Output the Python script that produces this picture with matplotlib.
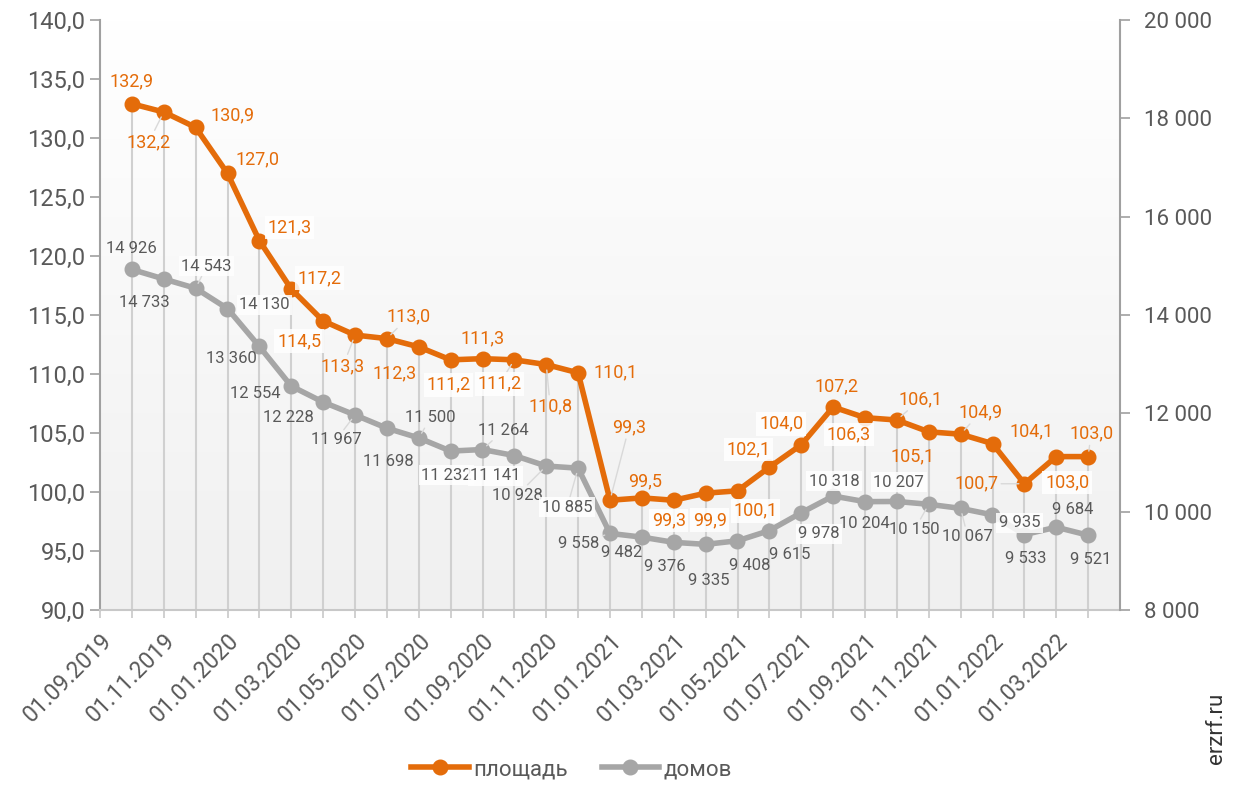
import matplotlib
matplotlib.use("Agg")
import matplotlib.pyplot as plt
from matplotlib.colors import LinearSegmentedColormap
import numpy as np

plt.rcParams['font.family'] = ['Roboto', 'DejaVu Sans']

# data: monthly, 01.10.2019 .. 01.04.2022
area = [132.9, 132.2, 130.9, 127.0, 121.3, 117.2, 114.5, 113.3, 113.0, 112.3, 111.2,
        111.3, 111.2, 110.8, 110.1, 99.3, 99.5, 99.3, 99.9, 100.1, 102.1, 104.0,
        107.2, 106.3, 106.1, 105.1, 104.9, 104.1, 100.7, 103.0, 103.0]
houses = [14926, 14733, 14543, 14130, 13360, 12554, 12228, 11967, 11698, 11500, 11232,
          11264, 11141, 10928, 10885, 9558, 9482, 9376, 9335, 9408, 9615, 9978,
          10318, 10204, 10207, 10150, 10067, 9935, 9533, 9684, 9521]
date_labels = ["01.09.2019", "01.11.2019", "01.01.2020", "01.03.2020", "01.05.2020",
               "01.07.2020", "01.09.2020", "01.11.2020", "01.01.2021", "01.03.2021",
               "01.05.2021", "01.07.2021", "01.09.2021", "01.11.2021", "01.01.2022",
               "01.03.2022"]
names = ["площадь", "домов"]

# label offsets in pixels (dx, dy up)
off_a = [(0, 22), (-15, -30), (37, 12), (30, 14), (30, 13), (28, 11), (-24, -20), (-12, -31),
         (22, 22), (-24, -26), (-2, -25), (0, 20), (-15, -24), (4, -42), (37, 0), (19, 73),
         (3, 17), (-5, -20), (4, -27), (18, -20), (-21, 18), (-20, 21), (3, 21), (-16, -17),
         (24, 21), (-16, -25), (20, 22), (39, 12), (-48, 0), (11, -26), (3, 23)]
off_h = [(0, 21), (-19, -24), (11, 22), (37, 4), (-28, -12), (-36, -7), (-35, -15), (-19, -25),
         (1, -33), (12, 20), (-4, -24), (21, 19), (-19, -20), (-29, -29), (-11, -39), (-31, -10),
         (-20, -15), (-9, -24), (3, -36), (12, -25), (20, -24), (18, -21), (1, 15), (-1, -22),
         (2, 19), (-14, -25), (7, -28), (27, -8), (1, -24), (16, 18), (3, -24)]
lead_a = {1, 7, 8, 12, 13, 15, 24, 26, 28, 30}
lead_h = {2, 7, 9, 11, 13, 14, 15, 25, 26}
box_a = {4, 5, 6, 10, 12, 17, 18, 19, 20, 21, 23, 29}
box_h = {2, 3, 10, 12, 14, 21, 22, 24, 27}

orange = '#E46C0A'
grey = '#A6A6A6'
txt = '#595959'

x = np.arange(1, len(area) + 1)

fig = plt.figure(figsize=(12.35, 7.87), dpi=100)
ax = fig.add_axes([100/1235, 1-610/787, 1020/1235, 590/787])
ax2 = ax.twinx()

ax.set_xlim(0, 32)
ax.set_ylim(90, 140)
ax2.set_ylim(8000, 20000)

# background gradient, white on top -> light grey at bottom
grad = np.linspace(0, 1, 256).reshape(-1, 1)
cm = LinearSegmentedColormap.from_list('g', ['#F0F0F0', '#FFFFFF'])
ax.imshow(grad, extent=[0, 32, 90, 140], aspect='auto', cmap=cm, origin='lower', zorder=0)
ax.set_zorder(1)
ax2.set_zorder(2)
ax.patch.set_visible(False)

# drop lines
ax.vlines(x, 90, area, colors='#D0D0D0', lw=1.5, zorder=1)

ax.plot(x, area, color=orange, lw=4, marker='o', ms=10.5, zorder=3, label=names[0])
ax2.plot(x, houses, color=grey, lw=4, marker='o', ms=10.5, zorder=3, label=names[1])

pt = 0.72
for i, v in enumerate(area):
    dx, dy = off_a[i]
    s = f"{v:.1f}".replace('.', ',')
    kw = {}
    if i in lead_a:
        kw['arrowprops'] = dict(arrowstyle='-', color='#D9D9D9', lw=1, shrinkA=0, shrinkB=4)
    if i in box_a:
        kw['bbox'] = dict(boxstyle='square,pad=0.15', fc='white', ec='none', alpha=0.85)
    ax.annotate(s, (x[i], v), xytext=(dx*pt, dy*pt), textcoords='offset points',
                ha='center', va='center', color=orange, fontsize=13, zorder=5, **kw)

for i, v in enumerate(houses):
    dx, dy = off_h[i]
    s = f"{v:,}".replace(',', ' ')
    kw = {}
    if i in lead_h:
        kw['arrowprops'] = dict(arrowstyle='-', color='#D9D9D9', lw=1, shrinkA=0, shrinkB=4)
    if i in box_h:
        kw['bbox'] = dict(boxstyle='square,pad=0.15', fc='white', ec='none', alpha=0.85)
    ax2.annotate(s, (x[i], v), xytext=(dx*pt, dy*pt), textcoords='offset points',
                 ha='center', va='center', color=txt, fontsize=12, zorder=5, **kw)

# axes styling
ax.set_yticks(np.arange(90, 141, 5))
ax.set_yticklabels([f"{t:.1f}".replace('.', ',') for t in np.arange(90, 141, 5)])
ax2.set_yticks(np.arange(8000, 20001, 2000))
ax2.set_yticklabels([f"{t:,}".replace(',', ' ') for t in range(8000, 20001, 2000)])

ax.set_xticks(np.arange(0, 32))
ax.set_xticklabels([date_labels[i // 2] if i % 2 == 0 else '' for i in range(32)],
                   rotation=45, ha='right', rotation_mode='anchor')

ax.tick_params(axis='y', labelsize=17, labelcolor=txt, color='#A0A0A0', length=7, width=1.2)
ax.tick_params(axis='x', labelsize=16.5, labelcolor=txt, color='#C8C8C8', length=6, width=1.2, pad=8)
ax2.tick_params(axis='y', labelsize=16, labelcolor=txt, color='#A0A0A0', length=7, width=1.2, pad=10)

for a in (ax, ax2):
    a.spines['top'].set_visible(False)
ax.spines['left'].set_color('#A0A0A0')
ax.spines['left'].set_linewidth(1.5)
ax.spines['bottom'].set_color('#C8C8C8')
ax.spines['bottom'].set_linewidth(1.5)
ax.spines['right'].set_visible(False)
ax2.spines['left'].set_visible(False)
ax2.spines['bottom'].set_visible(False)
ax2.spines['right'].set_color('#A0A0A0')
ax2.spines['right'].set_linewidth(1.5)

h1, l1 = ax.get_legend_handles_labels()
h2, l2 = ax2.get_legend_handles_labels()
fig.legend(h1 + h2, l1 + l2, loc='center', bbox_to_anchor=(0.463, 0.022), ncol=2,
           frameon=False, fontsize=16, labelcolor=txt, handlelength=2.6, handletextpad=0.2,
           columnspacing=1.5)

fig.text(0.985, 0.075, "erzrf.ru", rotation=90, ha='center', va='center', fontsize=16, color='#333333')

fig.savefig("out.png", dpi=100)
